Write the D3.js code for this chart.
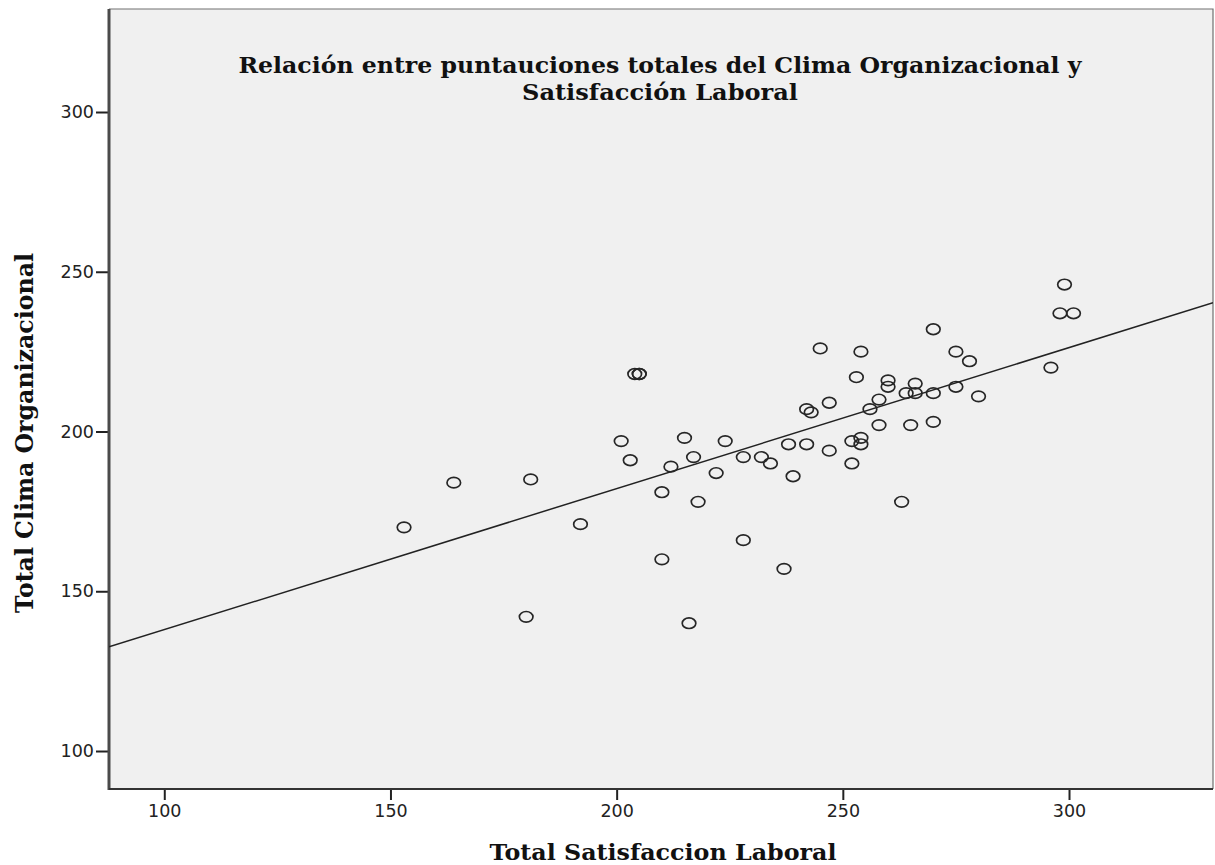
<!DOCTYPE html>
<html>
<head>
<meta charset="utf-8">
<script src="https://cdn.jsdelivr.net/npm/d3@7"></script>
<style>
  html, body { margin: 0; padding: 0; background: #ffffff; }
  svg { display: block; }
</style>
</head>
<body>
<svg id="chart" width="1215" height="865"></svg>
<script>
// ---- Data ----
const satisfaccion = [153,164,181,180,192,201,203,204,205,205,210,210,212,215,217,218,216,222,224,228,228,232,234,237,238,239,242,242,243,245,247,247,252,252,253,254,254,254,256,258,258,260,260,263,264,265,266,266,270,270,270,275,275,278,280,296,298,299,301];
const clima        = [170,184,185,142,171,197,191,218,218,218,181,160,189,198,192,178,140,187,197,192,166,192,190,157,196,186,196,207,206,226,209,194,197,190,217,225,198,196,207,210,202,216,214,178,212,202,215,212,232,212,203,225,214,222,211,220,237,246,237];
const fitIntercept = 93.85;   // fitted line
const fitSlope = 0.4414;
const xDomain = [87.78, 331.83];
const yDomain = [88.11, 332.24];
const xTicks = [100, 150, 200, 250, 300];
const yTicks = [100, 150, 200, 250, 300];
const titleLines = ["Relación entre puntauciones totales del Clima Organizacional y", "Satisfacción Laboral"];
const xTitle = "Total Satisfaccion Laboral";
const yTitle = "Total Clima Organizacional";

const svg = d3.select("#chart");
const L = 109, R = 1213, T = 9, B = 789;
const x = d3.scaleLinear().domain(xDomain).range([L, R]);
const y = d3.scaleLinear().domain(yDomain).range([B, T]);

// plot background
svg.append("rect").attr("x", L).attr("y", T).attr("width", R - L).attr("height", B - T)
  .attr("fill", "#f0f0f0");
// top & right thin frame
svg.append("path").attr("d", `M${L},${T}H${R}V${B}`).attr("fill", "none")
  .attr("stroke", "#707070").attr("stroke-width", 1.2);

// axes
const xAxis = d3.axisBottom(x).tickValues(xTicks).tickSize(11).tickSizeOuter(0).tickPadding(5);
const yAxis = d3.axisLeft(y).tickValues(yTicks).tickSize(13).tickSizeOuter(0).tickPadding(2);

const gx = svg.append("g").attr("transform", `translate(0,${B})`).call(xAxis);
const gy = svg.append("g").attr("transform", `translate(${L},0)`).call(yAxis);
[gx, gy].forEach(g => {
  g.attr("font-size", null).attr("font-family", null);
  g.selectAll(".domain").remove();
  g.selectAll(".tick line").attr("stroke", "#222").attr("stroke-width", 2);
  g.selectAll(".tick text").attr("fill", "#222")
    .style("font-family", "'DejaVu Sans', sans-serif").style("font-size", "17.5px");
});
gx.selectAll(".tick text").attr("dy", "0.71em");
// axis lines (left & bottom, darker)
svg.append("line").attr("x1", L).attr("x2", L).attr("y1", T).attr("y2", B + 1)
  .attr("stroke", "#4a4a4a").attr("stroke-width", 3);
svg.append("line").attr("x1", L).attr("x2", R).attr("y1", B).attr("y2", B)
  .attr("stroke", "#333").attr("stroke-width", 2);

// fit line
svg.append("clipPath").attr("id", "plotclip").append("rect")
  .attr("x", L).attr("y", T).attr("width", R - L).attr("height", B - T);
svg.append("line")
  .attr("clip-path", "url(#plotclip)")
  .attr("x1", x(xDomain[0])).attr("y1", y(fitIntercept + fitSlope * xDomain[0]))
  .attr("x2", x(xDomain[1])).attr("y2", y(fitIntercept + fitSlope * xDomain[1]))
  .attr("stroke", "#222").attr("stroke-width", 1.5);

// points
const pts = satisfaccion.map((v, i) => ({ sx: v, cy: clima[i] }));
svg.append("g").selectAll("ellipse").data(pts).join("ellipse")
  .attr("cx", d => x(d.sx)).attr("cy", d => y(d.cy))
  .attr("rx", 6.8).attr("ry", 5.3)
  .attr("fill", "none").attr("stroke", "#262626").attr("stroke-width", 1.7);

// title
const serif = "'DejaVu Serif', serif";
svg.append("text").attr("x", 660).attr("y", 73).attr("text-anchor", "middle")
  .style("font-family", serif).style("font-weight", "bold").style("font-size", "22px")
  .attr("fill", "#111").attr("textLength", 843).attr("lengthAdjust", "spacingAndGlyphs")
  .text(titleLines[0]);
svg.append("text").attr("x", 660).attr("y", 100).attr("text-anchor", "middle")
  .style("font-family", serif).style("font-weight", "bold").style("font-size", "22px")
  .attr("fill", "#111").attr("textLength", 276).attr("lengthAdjust", "spacingAndGlyphs")
  .text(titleLines[1]);

// axis titles
svg.append("text").attr("x", 663).attr("y", 860).attr("text-anchor", "middle")
  .style("font-family", serif).style("font-weight", "bold").style("font-size", "22px")
  .attr("fill", "#111").attr("textLength", 347).attr("lengthAdjust", "spacingAndGlyphs")
  .text(xTitle);
svg.append("text")
  .attr("transform", "translate(33,433) scale(1.15,1) rotate(-90)")
  .attr("text-anchor", "middle")
  .style("font-family", serif).style("font-weight", "bold").style("font-size", "21px")
  .attr("fill", "#111").attr("textLength", 360).attr("lengthAdjust", "spacingAndGlyphs")
  .text(yTitle);
</script>
</body>
</html>
